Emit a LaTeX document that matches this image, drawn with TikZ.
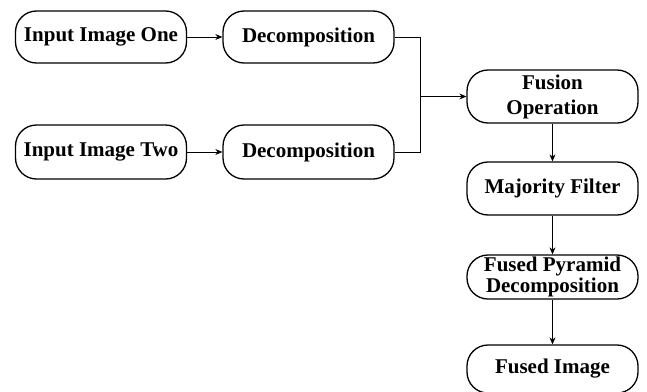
\documentclass[tikz,border=0pt]{standalone}
\usepackage{fontspec}
\setmainfont{Liberation Serif}
\usetikzlibrary{arrows.meta}
\begin{document}
\begin{tikzpicture}[x=1pt,y=-1pt,
  box/.style={draw,line width=1.3pt,rounded corners=21pt,minimum width=171pt,inner sep=0pt,align=center,font=\fontsize{21}{25}\selectfont\bfseries},
  conn/.style={line width=0.8pt},
  arr/.style={conn,-{Stealth[length=7pt,width=6pt]}}]
\useasboundingbox (0,0) rectangle (647,391);
\node[box,minimum height=52pt] (in1) at (101,37) {Input Image One};
\node[box,minimum height=52pt] (d1) at (308.5,37) {Decomposition};
\node[box,minimum height=54pt] (in2) at (101,152) {Input Image Two};
\node[box,minimum height=54pt] (d2) at (308.5,152) {Decomposition};
\node[box,minimum height=53pt] (fus) at (552.5,96.5) {Fusion\\Operation};
\node[box,minimum height=53pt] (maj) at (552.5,188.5) {Majority Filter};
\node[box,minimum height=44pt,font=\fontsize{21}{21}\selectfont\bfseries] (fpd) at (552.5,277) {Fused Pyramid\\Decomposition};
\node[box,minimum height=48pt] (fim) at (552.5,369) {Fused Image};
\coordinate (J) at (420,96.5);
\draw[arr] (in1.east) -- (d1.west);
\draw[arr] (in2.east) -- (d2.west);
\draw[conn] (d1.east) -| (J);
\draw[conn] (d2.east) -| (J);
\draw[arr] (J) -- (fus.west);
\draw[arr] (fus.south) -- (maj.north);
\draw[arr] (maj.south) -- (fpd.north);
\draw[arr] (fpd.south) -- (fim.north);
\end{tikzpicture}
\end{document}
